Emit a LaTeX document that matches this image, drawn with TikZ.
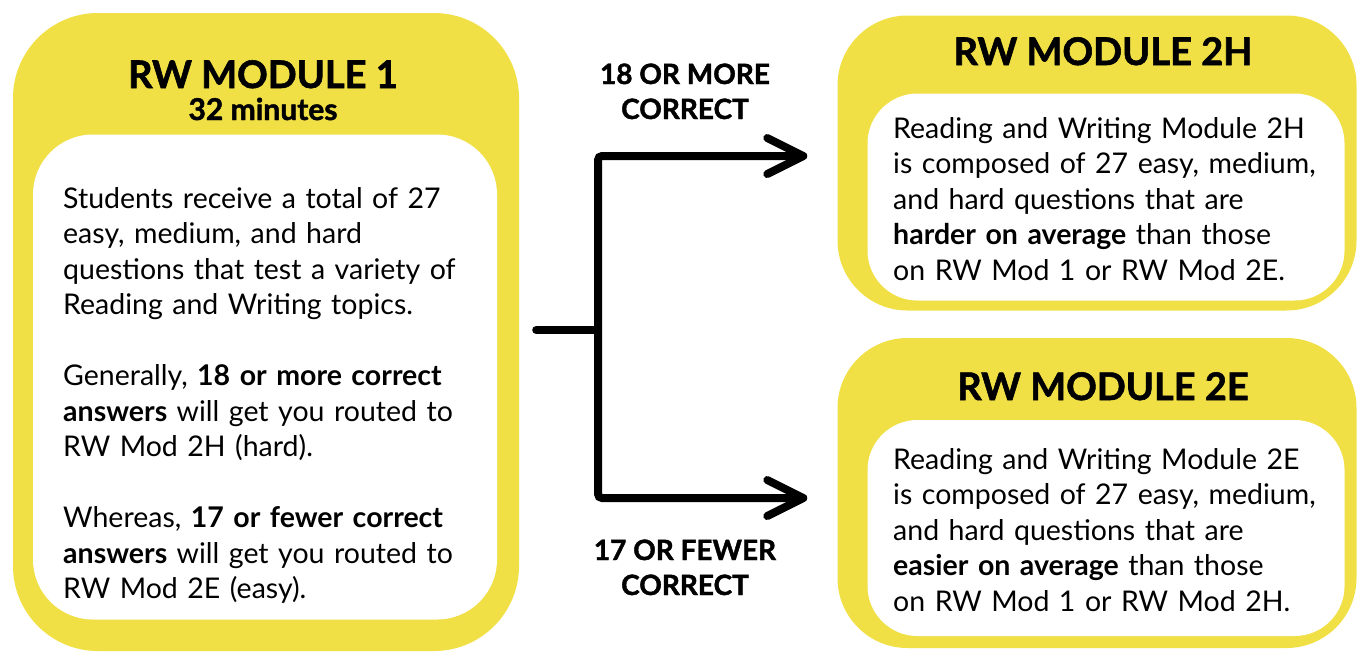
\documentclass[tikz,border=0pt]{standalone}
\usepackage{fontspec}
\setmainfont{Lato}
\newfontfamily\heavyfont{Lato}[BoldFeatures={FakeBold=1.5}]
\usetikzlibrary{arrows.meta, positioning}
\definecolor{rwyellow}{RGB}{240,224,70}
\tikzstyle{modblob} = [fill=rwyellow, rectangle, rounded corners=85pt, inner sep=0pt]
\tikzstyle{modpanel} = [fill=white, rectangle, rounded corners=60pt, inner sep=0pt]
\tikzstyle{modtitle} = [font=\fontsize{38}{40}\heavyfont\bfseries, inner sep=0pt]
\tikzstyle{modtime} = [font=\fontsize{30}{32}\heavyfont\bfseries, inner sep=0pt]
\tikzstyle{bodytext} = [font=\fontsize{28.5}{35.5}\selectfont, align=left, inner sep=0pt]
\tikzstyle{routelabel} = [font=\fontsize{28}{35}\heavyfont\bfseries, align=center, inner sep=0pt]
\tikzstyle{route} = [line width=8pt, line cap=round, rounded corners=4pt]

\begin{document}
\begin{tikzpicture}[x=1pt, y=-1pt]
		\useasboundingbox (0,0) rectangle (1359,654);
		% module 1
		\node [modblob, minimum width=506pt, minimum height=638pt] (mod1) at (266,332) {};
		\node [modpanel, minimum width=464pt, minimum height=485pt] (mod1panel) at (265,377) {};
		\node [modtitle, anchor=base] (mod1title) at (263,88) {RW MODULE 1};
		\node [modtime, anchor=base] (mod1time) at (263,120) {32 minutes};
		\node [bodytext, text width=450pt, anchor=base west] (mod1text) at (63,208) {%
			Students receive a total of 27\\
			easy, medium, and hard\\
			questions that test a variety of\\
			Reading and Writing topics.\\[35.5pt]
			Generally, \textbf{18 or more correct}\\
			\textbf{answers} will get you routed to\\
			RW Mod 2H (hard).\\[35.5pt]
			Whereas, \textbf{17 or fewer correct}\\
			\textbf{answers} will get you routed to\\
			RW Mod 2E (easy).};
		% module 2H
		\node [modblob, rounded corners=70pt, minimum width=519pt, minimum height=295pt] (mod2h) at (1097,163) {};
		\node [modpanel, rounded corners=50pt, minimum width=477pt, minimum height=207pt] (mod2hpanel) at (1106,197) {};
		\node [modtitle, anchor=base] (mod2htitle) at (1103,65) {RW MODULE 2H};
		\node [bodytext, text width=460pt, anchor=base west] (mod2htext) at (893,138) {%
			Reading and Writing Module 2H\\
			is composed of 27 easy, medium,\\
			and hard questions that are\\
			\textbf{harder on average} than those\\
			on RW Mod 1 or RW Mod 2E.};
		% module 2E
		\node [modblob, rounded corners=70pt, minimum width=519pt, minimum height=310pt] (mod2e) at (1097,493) {};
		\node [modpanel, rounded corners=50pt, minimum width=477pt, minimum height=216pt] (mod2epanel) at (1106,528) {};
		\node [modtitle, anchor=base] (mod2etitle) at (1103,400) {RW MODULE 2E};
		\node [bodytext, text width=460pt, anchor=base west] (mod2etext) at (893,469) {%
			Reading and Writing Module 2E\\
			is composed of 27 easy, medium,\\
			and hard questions that are\\
			\textbf{easier on average} than those\\
			on RW Mod 1 or RW Mod 2H.};
		% routing
		\coordinate (split) at (598,330);
		\coordinate (uproute) at (598,156);
		\coordinate (downroute) at (598,498);
		\node [routelabel, anchor=base] (uplabel) at (685,119) {18 OR MORE\\CORRECT};
		\node [routelabel, anchor=base] (downlabel) at (685,595) {17 OR FEWER\\CORRECT};
		\draw [route, shorten <=17pt] (mod1.east |- split) -- (split);
		\draw [route, {Straight Barb[length=36pt, width=36pt, round]}-{Straight Barb[length=36pt, width=36pt, round]}, shorten <=30pt, shorten >=30pt]
			(mod2h.west |- uproute) -- (uproute) -- (downroute) -- (mod2e.west |- downroute);
	\end{tikzpicture}
\end{document}
